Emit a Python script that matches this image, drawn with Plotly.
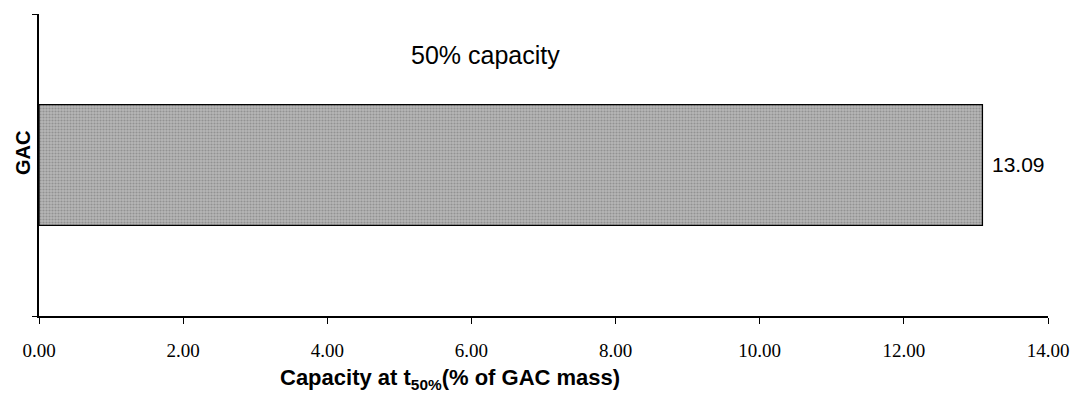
import plotly.graph_objects as go

categories = ["GAC"]
values = [13.09]
value_labels = ["13.09"]
tick_vals = [0, 2, 4, 6, 8, 10, 12, 14]

fig = go.Figure()
fig.add_trace(go.Bar(
    y=categories, x=values, orientation="h",
    width=0.4,
    marker=dict(color="#aaaaaa", line=dict(color="black", width=1.3),
                pattern=dict(shape=".", fgcolor="#6e6e6e", bgcolor="#b6b6b6", size=3, solidity=0.4)),
))

# value label
for c, v, t in zip(categories, values, value_labels):
    fig.add_annotation(
        x=v, y=c, text=t, showarrow=False, xanchor="left", yanchor="middle",
        xshift=8, yshift=1,
        font=dict(family="Arial, Liberation Sans", size=21, color="black"),
    )
    # category label (rotated)
    fig.add_annotation(
        x=0, y=c, xref="paper", text="<b>" + c + "</b>", showarrow=False,
        textangle=-90, xanchor="center", yanchor="middle",
        xshift=-16, yshift=12,
        font=dict(family="Arial, Liberation Sans", size=20, color="black"),
    )

fig.add_annotation(
    text="50% capacity", xref="paper", yref="paper", x=0.443, y=0.864,
    xanchor="center", yanchor="middle", showarrow=False,
    font=dict(family="Arial, Liberation Sans", size=25, color="black"),
)

fig.add_annotation(
    text="<b>Capacity at t<sub>50%</sub>(% of GAC mass)</b>", xref="paper", yref="paper",
    x=0.407, y=-0.21, xanchor="center", yanchor="middle", showarrow=False,
    font=dict(family="Arial, Liberation Sans", size=22, color="black"),
)

fig.update_layout(
    width=1081, height=399,
    margin=dict(l=39, r=33, t=14, b=83),
    paper_bgcolor="white", plot_bgcolor="white",
    showlegend=False,
    xaxis=dict(
        range=[0, 14], tickvals=tick_vals, tickformat=".2f",
        showgrid=False, zeroline=False,
        showline=True, linecolor="black", linewidth=1.5,
        ticks="outside", ticklen=6, tickcolor="black",
        tickfont=dict(family="Liberation Serif, Times New Roman", size=19, color="black"),
        ticklabelstandoff=10,
    ),
    yaxis=dict(
        range=[-0.5, 0.5],
        showgrid=False, zeroline=False,
        showline=True, linecolor="black", linewidth=2,
        ticks="outside", ticklen=5, tickcolor="black", tickson="boundaries",
        showticklabels=False,
    ),
)

fig.write_html("out.html")
